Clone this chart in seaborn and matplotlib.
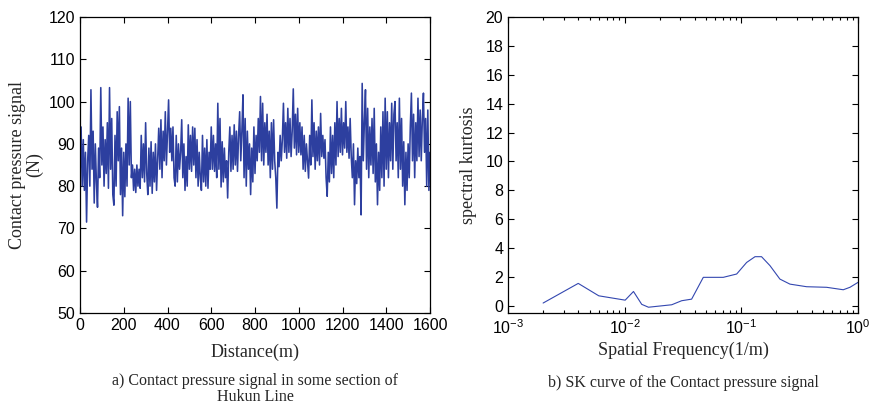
import numpy as np
import pandas as pd
import matplotlib
matplotlib.use("Agg")
import matplotlib.pyplot as plt
import seaborn as sns

# ---- data: contact pressure signal, one value every 5 m
step_m = 5
pressure_0 = [82, 94, 80, 91, 79, 88, 71.5, 86, 92, 80, 102.8, 84, 93, 76, 90, 81, 75, 89, 82, 103.3,
              85, 94, 80, 91, 83, 95, 79.5, 103.3, 84, 96, 78, 75.5, 92, 80, 97.6, 86, 98.8, 78, 89, 73]
pressure_1 = [88, 77.5, 90, 80, 100.8, 85, 100, 82, 85, 79, 84, 78.5, 85, 80, 84, 79.5, 92, 82, 90, 81,
              95, 83, 78, 89, 80, 90.5, 78.3, 88, 81, 90, 79, 86, 93.7, 84, 95.7, 82, 93, 86, 97.6, 85]
pressure_2 = [93, 100.4, 88, 93.7, 86, 94, 82, 80, 92, 81, 90, 84, 88, 95.7, 82, 90, 79, 87, 80, 94.5,
              84, 92, 83.5, 94, 85, 93.7, 82, 91, 80, 88, 82, 79, 92, 81, 89, 80, 91, 79.5, 88, 84]
pressure_3 = [94, 84, 92, 83.5, 90, 82, 99.6, 84, 96, 79.8, 90.5, 81, 89, 82, 86, 77.2, 88, 94, 83.5, 92,
              84, 94.5, 85, 93, 83.5, 92, 97.6, 86, 93, 101.6, 82, 96, 80, 93, 84, 90, 78, 89, 81, 94]
pressure_4 = [83, 92, 86, 96, 88, 101.2, 86, 99.6, 85, 95, 88, 97, 85, 93, 82, 95, 84, 95.7, 86, 82,
              74.8, 88, 84.6, 92, 86, 91, 99.6, 88, 95, 86.6, 98.4, 88, 96, 87, 93, 103, 89, 97, 87.4, 98.4]
pressure_5 = [88, 95, 87.4, 94, 84, 92, 83.5, 90, 86, 81.9, 92, 85, 100.4, 87, 95, 84, 93, 86, 94, 85,
              97.2, 87, 92, 86.6, 91, 82, 77.6, 88, 81, 94, 83, 92, 82, 95, 85, 100, 87, 96, 88, 98.4]
pressure_6 = [87.4, 95, 89, 100, 88, 94, 86.6, 96, 87, 82, 90, 75.6, 86, 80.6, 89, 82, 87, 73.2, 104.3, 86,
              95, 102.8, 84, 98.4, 82, 94, 85, 96, 83, 98.4, 81, 90, 75.6, 88, 79, 94, 82, 97.6, 80, 100.8]
pressure_7 = [84, 97.6, 82, 95, 86, 99.6, 84, 97, 100, 86, 95, 82, 100.8, 84, 96, 80, 90.5, 75.6, 88, 79,
              90, 82, 94, 102, 86, 97, 82, 95, 86, 100.8, 87, 98, 86, 96, 102, 88, 96, 80, 98, 79, 88]

pressure = (pressure_0 + pressure_1 + pressure_2 + pressure_3 +
            pressure_4 + pressure_5 + pressure_6 + pressure_7)
distance = [i * step_m for i in range(len(pressure))]

# ---- data: spectral kurtosis curve
sk_freq = [0.002, 0.004, 0.006, 0.0101, 0.0119, 0.014, 0.016, 0.0253, 0.0308, 0.0375,
           0.0472, 0.070, 0.0912, 0.111, 0.131, 0.149, 0.176, 0.214, 0.261, 0.363,
           0.538, 0.748, 0.853, 1.0]
sk_value = [0.19, 1.55, 0.69, 0.39, 0.99, 0.10, -0.10, 0.07, 0.35, 0.46,
            1.97, 1.97, 2.20, 3.00, 3.40, 3.40, 2.78, 1.85, 1.50, 1.32,
            1.28, 1.11, 1.28, 1.62]

left_yticks = [50, 60, 70, 80, 90, 100, 110, 120]
left_xticks = [0, 200, 400, 600, 800, 1000, 1200, 1400, 1600]
right_yticks = [0, 2, 4, 6, 8, 10, 12, 14, 16, 18, 20]

df_sig = pd.DataFrame({"distance": distance, "pressure": pressure})
df_sk = pd.DataFrame({"freq": sk_freq, "sk": sk_value})

sns.set_style("ticks")
plt.rcParams["font.family"] = ["Liberation Sans", "DejaVu Sans"]
plt.rcParams["mathtext.default"] = "regular"

fig = plt.figure(figsize=(8.77, 4.08), dpi=100)
ax1 = fig.add_axes([80 / 877, 95 / 408, 350 / 877, 296 / 408])
ax2 = fig.add_axes([508 / 877, 95 / 408, 350 / 877, 296 / 408])

line_color = "#2d3f9f"
serif = ["Liberation Serif", "DejaVu Serif"]

sns.lineplot(data=df_sig, x="distance", y="pressure", ax=ax1, color=line_color,
             linewidth=1.15, estimator=None, sort=False)
ax1.set_xlim(0, 1600)
ax1.set_ylim(50, 120)
ax1.set_xticks(left_xticks)
ax1.set_yticks(left_yticks)
ax1.set_xlabel("Distance(m)", family=serif, fontsize=13, labelpad=8)
ax1.set_ylabel("Contact pressure signal\n(N)", family=serif, fontsize=13,
               labelpad=4, linespacing=0.95)

sns.lineplot(data=df_sk, x="freq", y="sk", ax=ax2, color="#3347b0",
             linewidth=0.8, estimator=None, sort=False)
ax2.set_xscale("log")
ax2.set_xlim(1e-3, 1)
ax2.set_ylim(-0.5, 20)
ax2.set_yticks(right_yticks)
ax2.set_xlabel("Spatial Frequency(1/m)", family=serif, fontsize=13, labelpad=4)
ax2.set_ylabel("spectral kurtosis", family=serif, fontsize=13, labelpad=6)

for ax in (ax1, ax2):
    for s in ax.spines.values():
        s.set_visible(True)
        s.set_linewidth(0.9)
        s.set_color("black")
    ax.tick_params(which="both", direction="in", top=True, right=True,
                   labelsize=11.5, colors="black", width=0.8)
    ax.tick_params(which="major", length=4)
    ax.tick_params(which="minor", length=2)

fig.text(255 / 877, 1 - 389 / 408,
         "a) Contact pressure signal in some section of\nHukun Line",
         family=serif, fontsize=11.5, ha="center", va="center", linespacing=1.0)
fig.text(683 / 877, 1 - 383 / 408,
         "b) SK curve of the Contact pressure signal",
         family=serif, fontsize=11.5, ha="center", va="center")

fig.savefig("out.png", dpi=100, facecolor="white")
